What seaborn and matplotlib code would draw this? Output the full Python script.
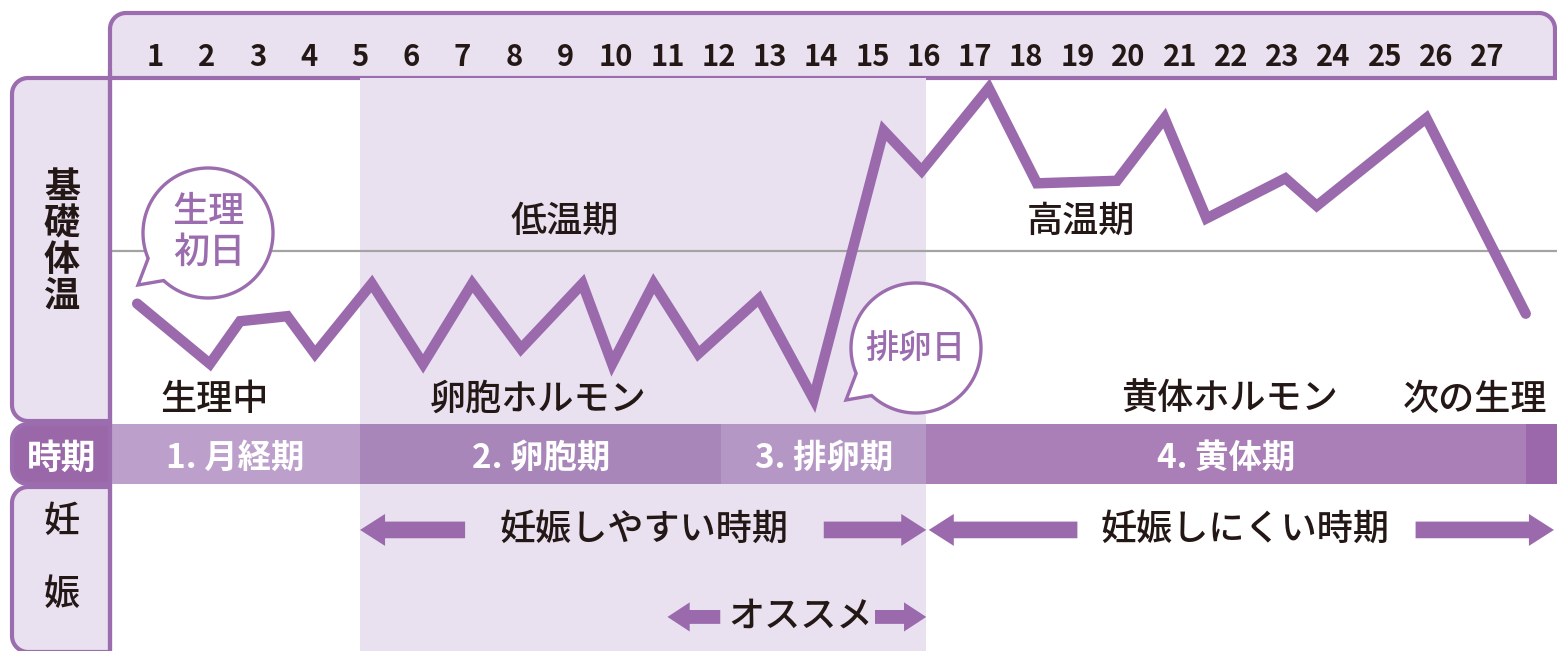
import numpy as np
import matplotlib
matplotlib.use("Agg")
import matplotlib.pyplot as plt
from matplotlib.patches import Polygon, FancyArrowPatch
import seaborn as sns

# Basal body temperature (schematic, x in cycle days, y in degC)
day_pos = [0.65, 2.07, 2.66, 3.58, 4.12, 5.23, 6.23, 7.19, 8.14, 9.34, 9.92, 10.73,
           11.60, 12.79, 13.85, 15.22, 15.96, 17.27, 18.21, 19.77, 20.70, 21.52,
           23.06, 23.67, 25.81, 27.75]
temperature = [36.49, 36.25, 36.42, 36.44, 36.29, 36.57, 36.25, 36.57, 36.31, 36.57,
               36.25, 36.57, 36.29, 36.51, 36.11, 37.18, 37.02, 37.35, 36.97, 36.98,
               37.23, 36.83, 36.99, 36.88, 37.23, 36.45]
baseline_temp = 36.70
day_ticks = list(range(1, 28))

# cycle phases (day edges)
phase_names = ["1. 月経期", "2. 卵胞期", "3. 排卵期", "4. 黄体期", ""]
phase_edges = [0.12, 5.0, 12.05, 16.05, 27.75, 28.36]
phase_colors = ["#bc9fcb", "#a886ba", "#b597c6", "#aa7fb7", "#9b69ab"]

fertile_window = (5.0, 16.05)

PURPLE = "#9b6aad"
EDGE = "#9b6cae"
LAV = "#e9e1f0"
INK = "#231815"

W, H = 1557, 651

sns.set_style("white")
plt.rcParams["font.family"] = ["Noto Sans CJK JP", "DejaVu Sans"]

fig = plt.figure(figsize=(W / 100, H / 100), dpi=100)


def px_axes(x0, y0, x1, y1, **kw):
    # axes placed by pixel box (y measured from the top)
    return fig.add_axes([x0 / W, 1 - y1 / H, (x1 - x0) / W, (y1 - y0) / H], **kw)


def rbox(x0, y0, x1, y1, r, tl=False, tr=False, br=False, bl=False, n=14):
    pts = []

    def arc(cx, cy, a0, a1):
        t = np.radians(np.linspace(a0, a1, n))
        return list(zip(cx + r * np.cos(t), cy + r * np.sin(t)))

    pts += arc(x0 + r, y0 + r, 180, 270) if tl else [(x0, y0)]
    pts += arc(x1 - r, y0 + r, 270, 360) if tr else [(x1, y0)]
    pts += arc(x1 - r, y1 - r, 0, 90) if br else [(x1, y1)]
    pts += arc(x0 + r, y1 - r, 90, 180) if bl else [(x0, y1)]
    return np.array(pts)


# background layer: header boxes
ax_bg = px_axes(0, 0, W, H, zorder=0)
ax_bg.set_xlim(0, W)
ax_bg.set_ylim(H, 0)
ax_bg.axis("off")
ax_bg.add_patch(Polygon(rbox(110, 13, 1555, 78, 16, tl=True, tr=True),
                        fc=LAV, ec=EDGE, lw=3))
ax_bg.add_patch(Polygon(rbox(12, 78, 110, 421, 16, tl=True, bl=True),
                        fc=LAV, ec=EDGE, lw=3))
ax_bg.add_patch(Polygon(rbox(12, 424, 110, 484, 16, tl=True, bl=True),
                        fc="#9a67a9", ec=EDGE, lw=3))
ax_bg.add_patch(Polygon(rbox(12, 487, 110, 652, 16, tl=True, bl=True),
                        fc=LAV, ec=EDGE, lw=3))

# temperature chart
ax = px_axes(110, 78, W, 424, zorder=1)
ax.set_facecolor("none")
ax.axvspan(*fertile_window, color=LAV, lw=0, zorder=0)
ax.axhline(baseline_temp, color="#a3a3a3", lw=1.6, zorder=1)
sns.lineplot(x=day_pos, y=temperature, ax=ax, color=PURPLE, linewidth=7.5,
             sort=False, solid_capstyle="round", solid_joinstyle="miter", zorder=2)
ax.set_xlim(phase_edges[0], phase_edges[-1])
ax.set_ylim(36.01, 37.39)
ax.set_xticks(day_ticks)
ax.set_xticklabels([str(d) for d in day_ticks], fontsize=21, fontweight="bold", color=INK)
ax.xaxis.tick_top()
ax.tick_params(axis="x", length=0, pad=4)
ax.set_yticks([])
ax.set_xlabel("")
ax.set_ylabel("")
for s in ax.spines.values():
    s.set_visible(False)

# phase bar
axp = px_axes(110, 424, W, 484, zorder=1)
widths = np.diff(phase_edges)
axp.barh(0.5, widths, left=phase_edges[:-1], height=1.0, color=phase_colors, lw=0)
for name, a, b in zip(phase_names, phase_edges[:-1], phase_edges[1:]):
    axp.text((a + b) / 2, 0.43, name, ha="center", va="center", color="white",
             fontsize=24, fontweight="bold")
axp.set_xlim(phase_edges[0], phase_edges[-1])
axp.set_ylim(0, 1)
axp.axis("off")

# pregnancy row
axg = px_axes(110, 484, W, H, zorder=1)
axg.set_facecolor("none")
axg.axvspan(*fertile_window, color=LAV, lw=0, zorder=0)
axg.set_xlim(phase_edges[0], phase_edges[-1])
axg.set_ylim(0, 1)
axg.axis("off")
row1, row2 = 0.725, 0.204
big = "simple,head_length=18,head_width=23,tail_width=12"
small = "simple,head_length=16,head_width=21,tail_width=10"
arrows = [(7.05, 5.0, row1, big), (14.05, 16.05, row1, big),
          (19.0, 16.1, row1, big), (25.6, 28.3, row1, big),
          (12.03, 11.0, row2, small), (15.05, 16.05, row2, small)]
for tail, tip, y, style in arrows:
    axg.add_patch(FancyArrowPatch((tail, y), (tip, y), arrowstyle=style,
                                  mutation_scale=1, color=PURPLE, lw=0,
                                  shrinkA=0, shrinkB=0))
for txt, x, y in [("妊娠しやすい時期", 10.54, row1), ("妊娠しにくい時期", 22.27, row1),
                  ("オススメ", 13.59, row2)]:
    axg.text(x, y, txt, ha="center", va="center", fontsize=26, fontweight=500, color=INK)

# foreground layer: bubbles and labels
ax_fg = px_axes(0, 0, W, H, zorder=3)
ax_fg.set_xlim(0, W)
ax_fg.set_ylim(H, 0)
ax_fg.axis("off")
ax_fg.plot([110, 110], [70, H], color=EDGE, lw=3, solid_capstyle="butt")


def bubble(cx, cy, r=65):
    t = np.radians(np.linspace(157, 493, 240))
    pts = np.column_stack([cx + r * np.cos(t), cy + r * np.sin(t)])
    pts = np.vstack([pts, [cx - 70, cy + 52]])
    ax_fg.add_patch(Polygon(pts, fc="white", ec=EDGE, lw=2.4, joinstyle="miter"))


bubble(208, 233)
ax_fg.text(209, 212, "生理", ha="center", va="center", fontsize=26, fontweight=500, color=EDGE)
ax_fg.text(209, 253, "初日", ha="center", va="center", fontsize=26, fontweight=500, color=EDGE)
bubble(916, 348)
ax_fg.text(915, 349, "排卵日", ha="center", va="center", fontsize=24, fontweight=500, color=EDGE)

chart_labels = [("低温期", 565, 222), ("高温期", 1081, 222), ("生理中", 215, 400),
                ("卵胞ホルモン", 538, 400), ("黄体ホルモン", 1229, 400), ("次の生理", 1475, 400)]
for txt, x, y in chart_labels:
    ax_fg.text(x, y, txt, ha="center", va="center", fontsize=26, fontweight=500, color=INK)

for ch, y in zip("基礎体温", [188, 224, 260, 296]):
    ax_fg.text(62, y, ch, ha="center", va="center", fontsize=26, fontweight="bold", color=INK)
ax_fg.text(62, 458, "時期", ha="center", va="center", fontsize=25, fontweight="bold", color="white")
ax_fg.text(62, 522, "妊", ha="center", va="center", fontsize=26, fontweight=500, color=INK)
ax_fg.text(62, 595, "娠", ha="center", va="center", fontsize=26, fontweight=500, color=INK)

fig.savefig("out.png", dpi=100)
